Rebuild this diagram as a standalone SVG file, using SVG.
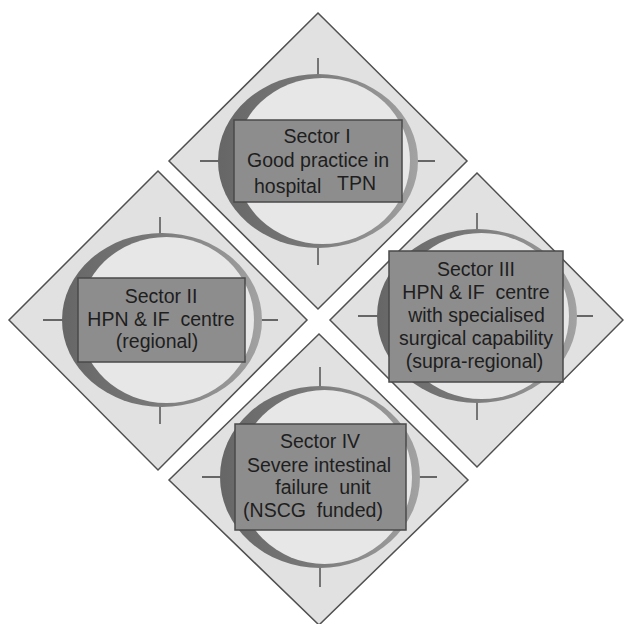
<svg xmlns="http://www.w3.org/2000/svg" width="624" height="624" viewBox="0 0 624 624">
<defs>
<linearGradient id="ring" x1="0" y1="0" x2="1" y2="0">
<stop offset="0" stop-color="#666666"/>
<stop offset="0.45" stop-color="#787878"/>
<stop offset="1" stop-color="#a2a2a2"/>
</linearGradient>
<style>
.dia{fill:#e1e1e1;stroke:#505050;stroke-width:1.5}
.tick{stroke:#3c3c3c;stroke-width:1.3}
.outer{fill:url(#ring)}
.inner{fill:#e7e7e7}
.box{fill:#8d8d8d;stroke:#4a4a4a;stroke-width:1.5}
.lbl{font-family:"Liberation Sans",Arial,sans-serif;font-size:19.5px;fill:#1e1e1e;text-anchor:middle}
</style>
</defs>
<rect width="624" height="624" fill="#ffffff"/>

<g id="sector1">
<polygon class="dia" points="318,13 467,161 318,309 169,161"/>
<line class="tick" x1="200" y1="161" x2="435" y2="161"/>
<line class="tick" x1="318" y1="58" x2="318" y2="265"/>
<ellipse class="outer" cx="318" cy="161" rx="100" ry="87"/>
<ellipse class="inner" cx="322.5" cy="161" rx="87.5" ry="83"/>
<rect class="box" x="234" y="120" width="168" height="82"/>
<text class="lbl" x="317" y="143">Sector I</text>
<text class="lbl" x="318" y="167">Good practice in</text>
<text class="lbl" x="254" y="193" style="text-anchor:start">hospital</text>
<text class="lbl" x="337" y="190" style="text-anchor:start">TPN</text>
</g>

<g id="sector2">
<polygon class="dia" points="158,171 307,320 158,470 9,320"/>
<line class="tick" x1="43" y1="320" x2="278" y2="320"/>
<line class="tick" x1="160" y1="217" x2="160" y2="424"/>
<ellipse class="outer" cx="162" cy="320" rx="100" ry="87"/>
<ellipse class="inner" cx="166.5" cy="320" rx="87.5" ry="83"/>
<rect class="box" x="78" y="278" width="167" height="84"/>
<text class="lbl" x="161" y="303">Sector II</text>
<text class="lbl" x="161" y="326" xml:space="preserve">HPN &amp; IF  centre</text>
<text class="lbl" x="157" y="348">(regional)</text>
</g>

<g id="sector3">
<polygon class="dia" points="477,173 623,320 477,467 330,320"/>
<line class="tick" x1="358" y1="316" x2="593" y2="316"/>
<line class="tick" x1="477" y1="213" x2="477" y2="420"/>
<ellipse class="outer" cx="477" cy="316" rx="100" ry="87"/>
<ellipse class="inner" cx="481.5" cy="316" rx="87.5" ry="83"/>
<rect class="box" x="389" y="251" width="174" height="131"/>
<text class="lbl" x="476" y="276">Sector III</text>
<text class="lbl" x="476" y="299" xml:space="preserve">HPN &amp; IF  centre</text>
<text class="lbl" x="476.5" y="322">with specialised</text>
<text class="lbl" x="476" y="345">surgical capability</text>
<text class="lbl" x="474.5" y="368">(supra-regional)</text>
</g>

<g id="sector4">
<polygon class="dia" points="319,334 468,480 319,625 169,480"/>
<line class="tick" x1="202" y1="477" x2="437" y2="477"/>
<line class="tick" x1="320" y1="367" x2="320" y2="587"/>
<ellipse class="outer" cx="320" cy="477" rx="100" ry="91"/>
<ellipse class="inner" cx="324.5" cy="477" rx="87.5" ry="87"/>
<rect class="box" x="235" y="424" width="171" height="106"/>
<text class="lbl" x="320" y="448">Sector IV</text>
<text class="lbl" x="319" y="472">Severe intestinal</text>
<text class="lbl" x="323" y="494" xml:space="preserve">failure  unit</text>
<text class="lbl" x="313" y="517" xml:space="preserve">(NSCG  funded)</text>
</g>
</svg>
